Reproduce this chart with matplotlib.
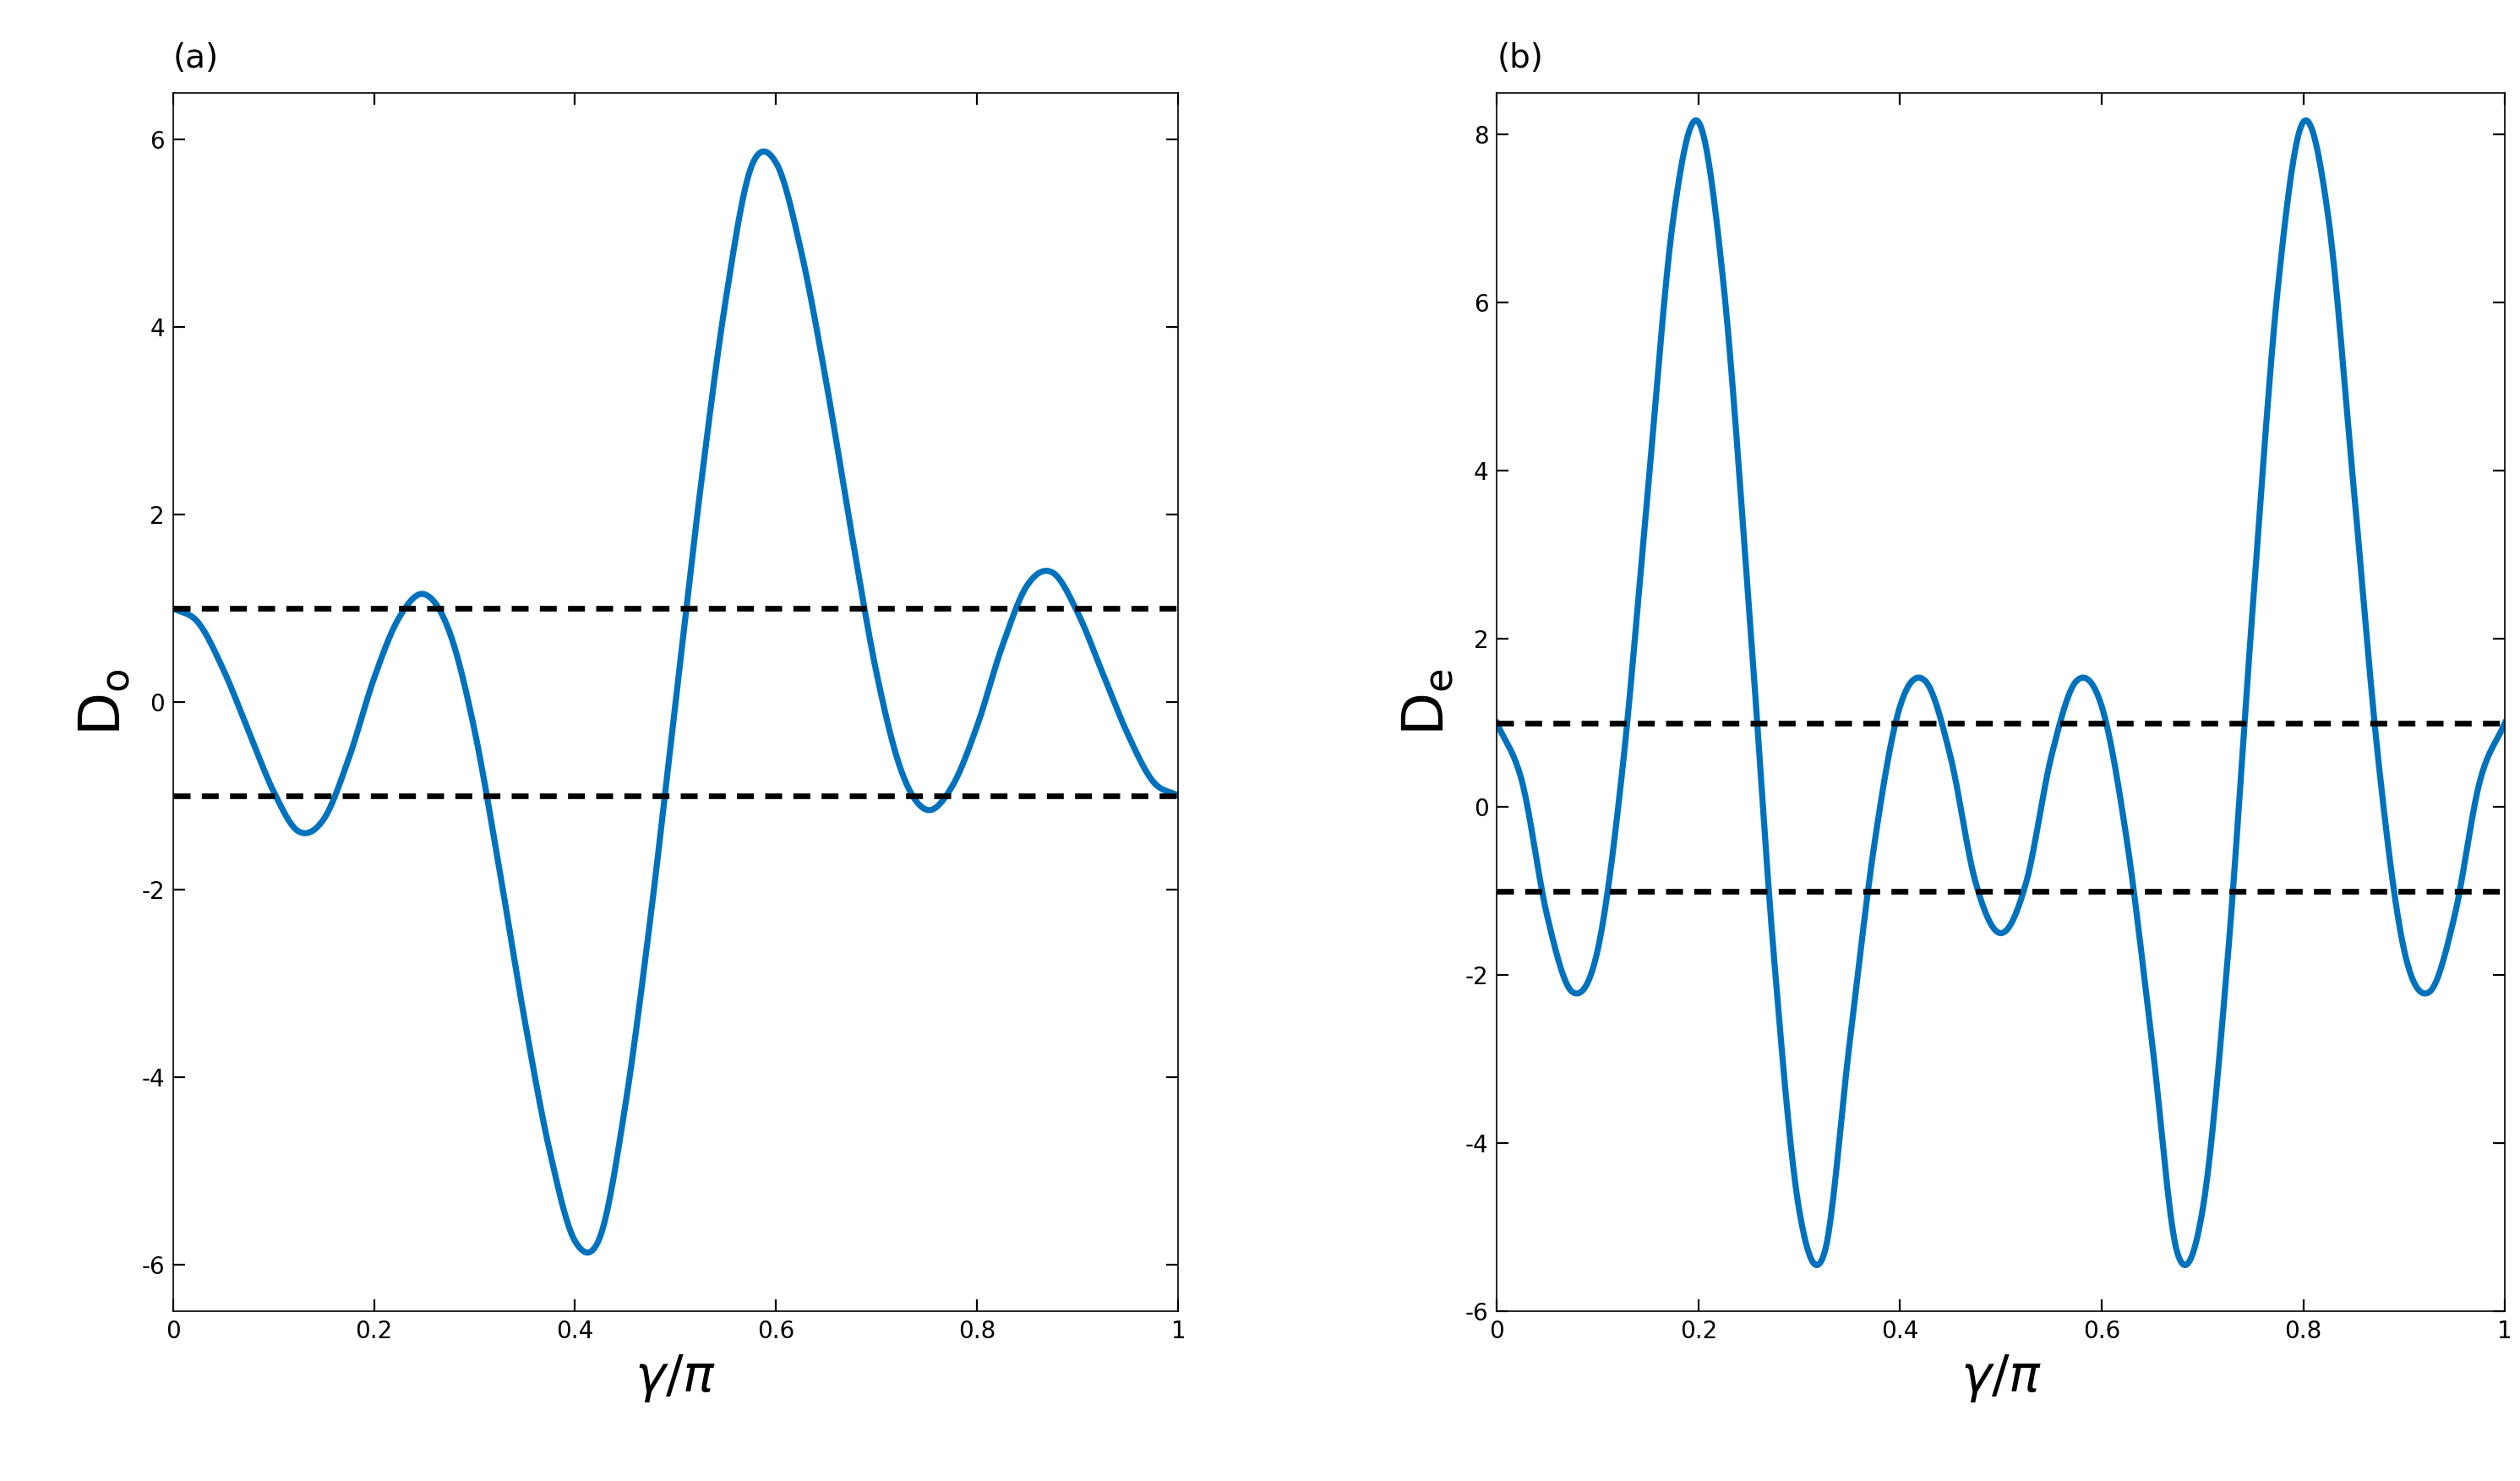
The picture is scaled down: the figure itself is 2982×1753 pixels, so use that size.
import numpy as np
import matplotlib
matplotlib.use('Agg')
import matplotlib.pyplot as plt

plt.rcParams['axes.unicode_minus'] = False

# values
xa = [0, 0.025, 0.05, 0.075, 0.1, 0.125, 0.15, 0.175, 0.2, 0.225, 0.25, 0.275, 0.3,
      0.325, 0.35, 0.375, 0.4, 0.425, 0.45, 0.475, 0.5, 0.525, 0.55, 0.575,
      0.6, 0.625, 0.65, 0.675, 0.7, 0.725, 0.75, 0.775, 0.8, 0.825, 0.85,
      0.875, 0.9, 0.925, 0.95, 0.975, 1.0]
ya = [1.0, 0.85, 0.35, -0.3, -0.95, -1.38, -1.25, -0.6, 0.25, 0.9, 1.15, 0.75, -0.3,
      -1.8, -3.4, -4.8, -5.75, -5.7, -4.3, -2.3, 0.0, 2.3, 4.3, 5.7,
      5.75, 4.8, 3.4, 1.8, 0.3, -0.75, -1.15, -0.9, -0.25, 0.6, 1.25,
      1.38, 0.95, 0.3, -0.35, -0.85, -1.0]

xb = [0, 0.025, 0.05, 0.075, 0.1, 0.125, 0.15, 0.175, 0.2, 0.225, 0.25,
      0.275, 0.3, 0.325, 0.35, 0.375, 0.4, 0.425, 0.45, 0.475, 0.5,
      0.525, 0.55, 0.575, 0.6, 0.625, 0.65, 0.675, 0.7, 0.725, 0.75, 0.775,
      0.8, 0.825, 0.85, 0.875, 0.9, 0.925, 0.95, 0.975, 1.0]
yb = [1.0, 0.3, -1.3, -2.2, -1.7, 0.5, 3.8, 7.0, 8.15, 6.2, 2.4,
      -1.8, -4.8, -5.3, -2.8, -0.4, 1.2, 1.5, 0.6, -0.9, -1.5,
      -0.9, 0.6, 1.5, 1.2, -0.4, -2.8, -5.3, -4.8, -1.8, 2.4, 6.2,
      8.15, 7.0, 3.8, 0.5, -1.7, -2.2, -1.3, 0.3, 1.0]


def smooth(x, y, n=20):
    # cubic Hermite curve through the read points
    x = np.asarray(x, float)
    y = np.asarray(y, float)
    xs, ys = [], []
    for i in range(len(x) - 1):
        h = x[i + 1] - x[i]
        m0 = (y[i + 1] - y[i - 1]) / (x[i + 1] - x[i - 1]) if i > 0 else (y[1] - y[0]) / h
        m1 = ((y[i + 2] - y[i]) / (x[i + 2] - x[i]) if i < len(x) - 2
              else (y[-1] - y[-2]) / h)
        t = np.linspace(0, 1, n, endpoint=False)
        h00 = 2 * t**3 - 3 * t**2 + 1
        h10 = t**3 - 2 * t**2 + t
        h01 = -2 * t**3 + 3 * t**2
        h11 = t**3 - t**2
        xs.append(x[i] + t * h)
        ys.append(h00 * y[i] + h10 * h * m0 + h01 * y[i + 1] + h11 * h * m1)
    xs.append([x[-1]])
    ys.append([y[-1]])
    return np.concatenate(xs), np.concatenate(ys)


fig = plt.figure(figsize=(14.91, 8.765), dpi=200)
ax1 = fig.add_axes([0.0686, 0.1145, 0.399, 0.823])
ax2 = fig.add_axes([0.594, 0.1145, 0.40, 0.823])

blue = '#0072BD'
panels = [(ax1, xa, ya, 'o', (-6.5, 6.5), [-6, -4, -2, 0, 2, 4, 6], '(a)'),
          (ax2, xb, yb, 'e', (-6, 8.5), [-6, -4, -2, 0, 2, 4, 6, 8], '(b)')]
for ax, x, y, sub, lim, ticks, tag in panels:
    sx, sy = smooth(x, y)
    ax.plot(sx, sy, color=blue, lw=2.6)
    ax.axhline(1, color='k', lw=2.4, ls=(0, (3, 2)))
    ax.axhline(-1, color='k', lw=2.4, ls=(0, (3, 2)))
    ax.set_xlim(0, 1)
    ax.set_ylim(*lim)
    ax.set_yticks(ticks)
    ax.set_xticks([0, 0.2, 0.4, 0.6, 0.8, 1])
    ax.set_xticklabels(['0', '0.2', '0.4', '0.6', '0.8', '1'])
    ax.tick_params(direction='in', top=True, right=True, labelsize=10, length=5)
    for s in ax.spines.values():
        s.set_linewidth(0.6)
    ax.set_xlabel(r'$\gamma/\pi$', fontsize=22)
    ax.set_ylabel(r'$\mathsf{D_%s}$' % sub, fontsize=24)
    ax.text(0.0, 1.015, tag, transform=ax.transAxes, fontsize=14, ha='left', va='bottom')

fig.savefig('out.png', dpi=200)
